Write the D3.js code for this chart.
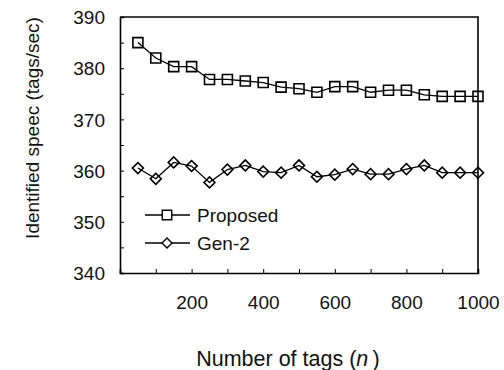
<!DOCTYPE html>
<html>
<head>
<meta charset="utf-8">
<script src="https://cdn.jsdelivr.net/npm/d3@7"></script>
<style>
  body { margin: 0; background: #fff; }
  svg { display: block; font-family: Arial, "Liberation Sans", sans-serif; }
</style>
</head>
<body>
<svg id="chart" width="504" height="370"></svg>
<script>
// number of tags
const tags = [50, 100, 150, 200, 250, 300, 350, 400, 450, 500,
              550, 600, 650, 700, 750, 800, 850, 900, 950, 1000];
const proposed = [385.0, 382.0, 380.3, 380.3, 377.8, 377.8, 377.5, 377.2, 376.3, 376.0,
                  375.3, 376.4, 376.4, 375.3, 375.7, 375.7, 374.8, 374.5, 374.5, 374.5];
const gen2 = [360.5, 358.4, 361.6, 360.9, 357.7, 360.2, 361.0, 359.8, 359.6, 361.0,
              358.8, 359.2, 360.3, 359.3, 359.3, 360.3, 361.0, 359.6, 359.6, 359.6];
const xTicks = [200, 400, 600, 800, 1000];
const yTicks = [340, 350, 360, 370, 380, 390];
const seriesNames = ['Proposed', 'Gen-2'];

const margin = { top: 17, right: 26, bottom: 97, left: 120 };
const width = 504, height = 370;
const plotW = width - margin.left - margin.right;
const plotH = height - margin.top - margin.bottom;

const svg = d3.select('#chart');
const g = svg.append('g').attr('transform', `translate(${margin.left},${margin.top})`);

const x = d3.scaleLinear().domain([0, 1000]).range([0, plotW]);
const y = d3.scaleLinear().domain([340, 390]).range([plotH, 0]);

// frame (top + right)
g.append('path')
  .attr('d', `M0,0H${plotW}V${plotH}`)
  .attr('fill', 'none').attr('stroke', '#000').attr('stroke-width', 1.6);

// axes with inward ticks
const xAxis = d3.axisBottom(x).tickValues(d3.range(100, 1001, 100))
  .tickSize(-4).tickFormat(d => xTicks.includes(d) ? d : '');
const yAxis = d3.axisLeft(y).tickValues(d3.range(340, 391, 5))
  .tickSize(-4).tickFormat(d => yTicks.includes(d) ? d : '');

const gx = g.append('g').attr('transform', `translate(0,${plotH})`).call(xAxis);
const gy = g.append('g').call(yAxis);

[gx, gy].forEach(a => {
  a.select('.domain').attr('stroke', '#000').attr('stroke-width', 1.6);
  a.selectAll('.tick line').attr('stroke', '#000').attr('stroke-width', 1);
  a.selectAll('.tick text').attr('fill', '#111').attr('font-size', 19)
    .attr('font-family', 'Arial, "Liberation Sans", sans-serif');
});
gx.selectAll('.tick text').attr('dy', null).attr('y', 36);
gy.selectAll('.tick text').attr('x', -15).attr('dy', '0.35em');

// lines and markers
const line = d3.line().x((d, i) => x(tags[i])).y(d => y(d));
const squareSym = d3.symbol().type(d3.symbolSquare).size(100);
const diamondSym = d3.symbol().type(d3.symbolSquare).size(60);

function drawSeries(values, kind) {
  g.append('path').datum(values)
    .attr('d', line).attr('fill', 'none').attr('stroke', '#000').attr('stroke-width', 1.3);
  g.selectAll('.m-' + kind).data(values).enter().append('path')
    .attr('class', 'm-' + kind)
    .attr('d', kind === 'sq' ? squareSym : diamondSym)
    .attr('transform', (d, i) => `translate(${x(tags[i])},${y(d)})` + (kind === 'sq' ? '' : ' rotate(45)'))
    .attr('fill', 'none').attr('stroke', '#000').attr('stroke-width', 1.6);
}
drawSeries(proposed, 'sq');
drawSeries(gen2, 'dm');

// legend
const legend = g.append('g').attr('transform', 'translate(25,198)');
seriesNames.forEach((name, i) => {
  const row = legend.append('g').attr('transform', `translate(0,${i * 28})`);
  row.append('line').attr('x1', 0).attr('x2', 45).attr('stroke', '#000').attr('stroke-width', 1.3);
  row.append('path')
    .attr('d', i === 0 ? d3.symbol().type(d3.symbolSquare).size(90)() : d3.symbol().type(d3.symbolSquare).size(50)())
    .attr('transform', i === 0 ? 'translate(22,0)' : 'translate(22,0) rotate(45)')
    .attr('fill', '#fff').attr('stroke', '#000').attr('stroke-width', 1.4);
  row.append('text').attr('x', 52).attr('dy', '0.35em')
    .attr('font-size', 19).attr('fill', '#111').text(name);
});

// axis titles
svg.append('text')
  .attr('x', 288).attr('y', 366)
  .attr('text-anchor', 'middle').attr('font-size', 21.5).attr('fill', '#111')
  .call(t => {
    t.append('tspan').text('Number of tags (');
    t.append('tspan').attr('font-style', 'italic').text('n');
    t.append('tspan').text('\u2009)');
  });

svg.append('text')
  .attr('transform', 'translate(39,128) rotate(-90)')
  .attr('text-anchor', 'middle').attr('font-size', 19).attr('fill', '#111')
  .text('Identified speec (tags/sec)');
</script>
</body>
</html>
